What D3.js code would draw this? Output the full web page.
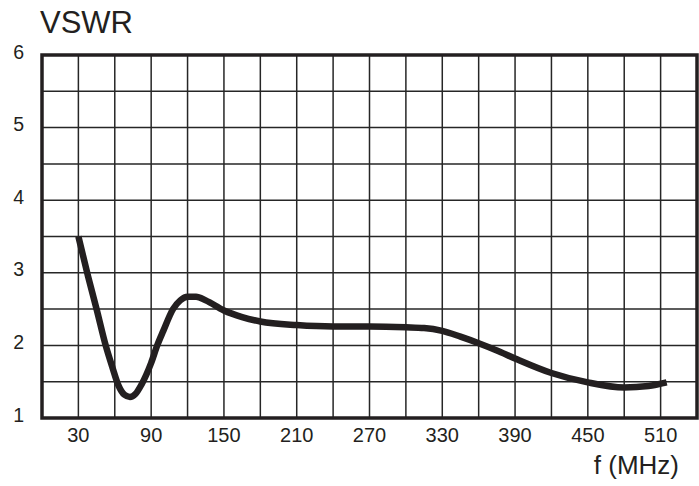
<!DOCTYPE html>
<html>
<head>
<meta charset="utf-8">
<script src="https://cdn.jsdelivr.net/npm/d3@7"></script>
<style>
  body { margin: 0; background: #fff; }
  text { font-family: "Liberation Sans", Arial, sans-serif; fill: #231f20; }
</style>
</head>
<body>
<svg id="chart"></svg>
<script>
// VSWR vs frequency
var freq = [30, 38, 45, 52.5, 58, 63, 68, 72.5, 77, 82, 90, 95, 100, 108, 114, 120, 127, 135, 150, 165, 180, 210, 240, 270, 300, 315, 330, 345, 360, 375, 390, 420, 450, 480, 500, 515]
var vswr = [3.5, 2.95, 2.5, 2.0, 1.7, 1.45, 1.32, 1.29, 1.33, 1.46, 1.76, 2.0, 2.2, 2.5, 2.62, 2.67, 2.67, 2.62, 2.48, 2.39, 2.33, 2.28, 2.26, 2.26, 2.25, 2.24, 2.2, 2.12, 2.03, 1.93, 1.82, 1.62, 1.49, 1.42, 1.44, 1.49]

var xTicks = [30, 90, 150, 210, 270, 330, 390, 450, 510]
var yTicks = [1, 2, 3, 4, 5, 6]
var xGrid = d3.range(0, 541, 30)
var yGrid = d3.range(1, 6.01, 0.5)

var width = 699
var height = 486
var margin = {top: 55, right: 2, bottom: 68, left: 42}

var svg = d3.select("#chart")
    .attr("width", width)
    .attr("height", height)

var x = d3.scaleLinear().domain([0, 540]).range([margin.left, width - margin.right])
var y = d3.scaleLinear().domain([1, 6]).range([height - margin.bottom, margin.top])

var grid = svg.append("g")
    .attr("stroke", "#262626")
    .attr("stroke-width", 1.5)

grid.selectAll("line.v")
    .data(xGrid)
    .enter()
    .append("line")
    .attr("class", "v")
    .attr("x1", d => x(d)).attr("x2", d => x(d))
    .attr("y1", y(1)).attr("y2", y(6))

grid.selectAll("line.h")
    .data(yGrid)
    .enter()
    .append("line")
    .attr("class", "h")
    .attr("x1", x(0)).attr("x2", x(540))
    .attr("y1", d => y(d)).attr("y2", d => y(d))

// frame
svg.append("rect")
    .attr("x", x(0))
    .attr("y", y(6))
    .attr("width", x(540) - x(0))
    .attr("height", y(1) - y(6))
    .attr("fill", "none")
    .attr("stroke", "#231f20")
    .attr("stroke-width", 3.5)

var line = d3.line()
    .x((d, i) => x(freq[i]))
    .y(d => y(d))
    .curve(d3.curveMonotoneX)

svg.append("path")
    .datum(vswr)
    .attr("d", line)
    .attr("fill", "none")
    .attr("stroke", "#231f20")
    .attr("stroke-width", 6.5)
    .attr("stroke-linejoin", "round")

svg.append("g").selectAll("text")
    .data(yTicks)
    .enter()
    .append("text")
    .attr("x", 24)
    .attr("y", d => y(d) + 3.5)
    .attr("text-anchor", "end")
    .attr("font-size", 19.5)
    .text(d => d)

svg.append("g").selectAll("text")
    .data(xTicks)
    .enter()
    .append("text")
    .attr("x", d => x(d))
    .attr("y", y(1) + 24)
    .attr("text-anchor", "middle")
    .attr("font-size", 20)
    .text(d => d)

svg.append("text")
    .attr("x", 679)
    .attr("y", 474)
    .attr("text-anchor", "end")
    .attr("font-size", 26)
    .text("f (MHz)")

svg.append("text")
    .attr("x", 40)
    .attr("y", 33)
    .attr("font-size", 31)
    .text("VSWR")
</script>
</body>
</html>
